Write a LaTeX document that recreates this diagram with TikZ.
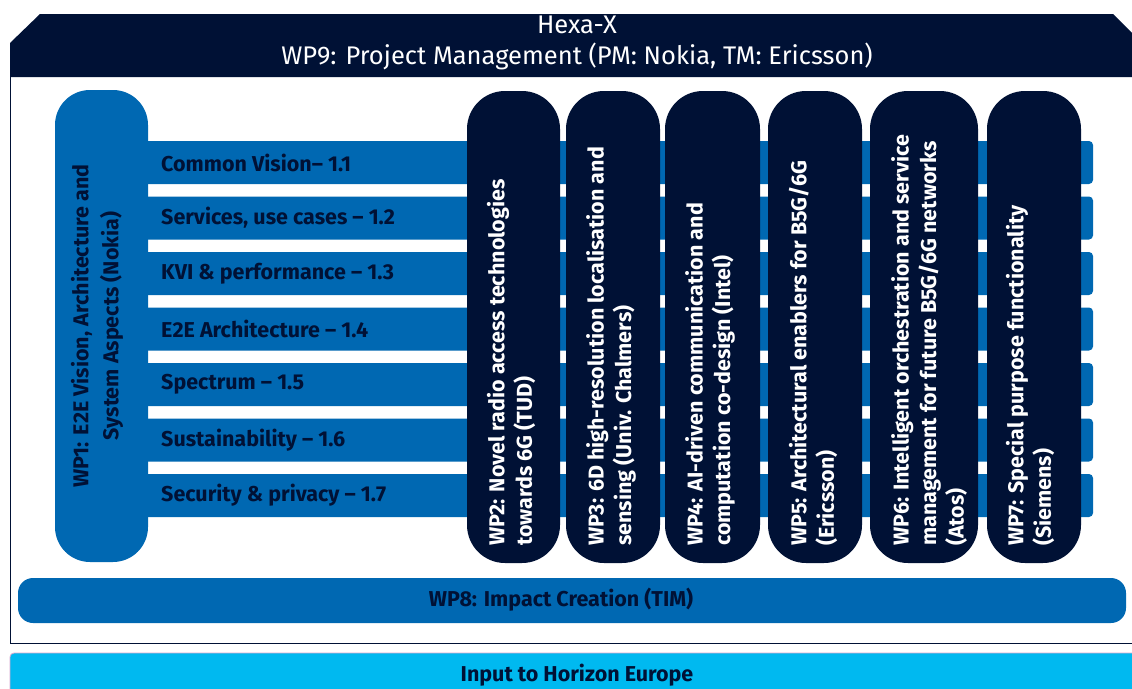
\documentclass[tikz,border=0pt]{standalone}
\usepackage{fontspec}
\setmainfont{Fira Sans}
\definecolor{navy}{HTML}{001135}
\definecolor{nblue}{HTML}{0068B2}
\definecolor{ncyan}{HTML}{00B9F0}
\definecolor{npink}{HTML}{D8A8D0}
\newcommand{\boldtxt}{\fontsize{21.5}{27.5}\selectfont\bfseries}
\tikzset{
  bandbox/.style={fill=nblue, rounded corners=4pt},
  bandtext/.style={anchor=west, inner sep=0pt, text=navy, font=\boldtxt},
  wpcol/.style={fill=navy, draw=none, rounded corners=38pt, minimum width=#1, minimum height=472pt, inner sep=0pt},
  coltext/.style={rotate=90, anchor=west, align=left, inner sep=0pt, text=white, font=\boldtxt},
}
\begin{document}
\begin{tikzpicture}[x=1pt, y=-1pt]
\useasboundingbox (0,0) rectangle (1132,688);
\clip (0,0) rectangle (1132,688);
% frame
\draw[navy, line width=1pt, fill=white] (10,60) rectangle (1150,643);
% header
\fill[navy] (10,43) -- (40,14) -- (1113,14) -- (1146,47) -- (1146,77) -- (10,77) -- cycle;
\node[text=white, font=\fontsize{25.5}{31}\selectfont, align=center] (hdr) at (577,43) {Hexa-X\\WP9: Project Management (PM: Nokia, TM: Ericsson)};
% WP1 column and bands
\node[fill=nblue, rounded corners=35pt, minimum width=93pt, minimum height=472pt, inner sep=0pt] (wp1) at (101.5,326) {};
\foreach \i/\t in {0/{Common Vision– 1.1},1/{Services, use cases – 1.2},2/{KVI \& performance – 1.3},3/{E2E Architecture – 1.4},4/{Spectrum – 1.5},5/{Sustainability – 1.6},6/{Security \& privacy – 1.7}}{
  \fill[bandbox] (120,141+55.5*\i) rectangle (1093,184+55.5*\i);
  \node[bandtext] (band\i) at (161,162.5+55.5*\i) {\t};
}
\node[rotate=90, align=center, inner sep=0pt, text=navy, font=\fontsize{21.5}{30}\selectfont\bfseries] (wp1t) at (97,326) {WP1: E2E Vision, Architecture and\\System Aspects (Nokia)};
% WP columns
\node[wpcol=93pt] (wp2) at (513.5,327) {};
\node[wpcol=94pt] (wp3) at (613,327) {};
\node[wpcol=95pt] (wp4) at (712.5,327) {};
\node[wpcol=94pt] (wp5) at (815,327) {};
\node[wpcol=108pt] (wp6) at (924,327) {};
\node[wpcol=94pt] (wp7) at (1034,327) {};
\node[coltext] (wp2t) at (511,546) {WP2: Novel radio access technologies\\towards 6G (TUD)};
\node[coltext] (wp3t) at (611,546) {WP3: 6D high-resolution localisation and\\sensing (Univ. Chalmers)};
\node[coltext] (wp4t) at (710,546) {WP4: AI-driven communication and\\computation co-design (Intel)};
\node[coltext] (wp5t) at (813,546) {WP5: Architectural enablers for B5G/6G\\(Ericsson)};
\node[coltext] (wp6t) at (929,546) {WP6: Intelligent orchestration and service\\management for future B5G/6G networks\\(Atos)};
\node[coltext] (wp7t) at (1030,546) {WP7: Special purpose functionality\\(Siemens)};
% WP8
\node[fill=nblue, rounded corners=15pt, minimum width=1108pt, minimum height=45pt, inner sep=0pt] (wp8) at (572,600.5) {};
\node[text=navy, font=\boldtxt] (wp8t) at (561,600) {WP8: Impact Creation (TIM)};
% bottom bar
\draw[fill=ncyan, draw=npink, line width=0.8pt, rounded corners=4pt] (10,653) rectangle (1150,700);
\node[text=navy, font=\boldtxt] (hz) at (577,675) {Input to Horizon Europe};
\end{tikzpicture}
\end{document}
